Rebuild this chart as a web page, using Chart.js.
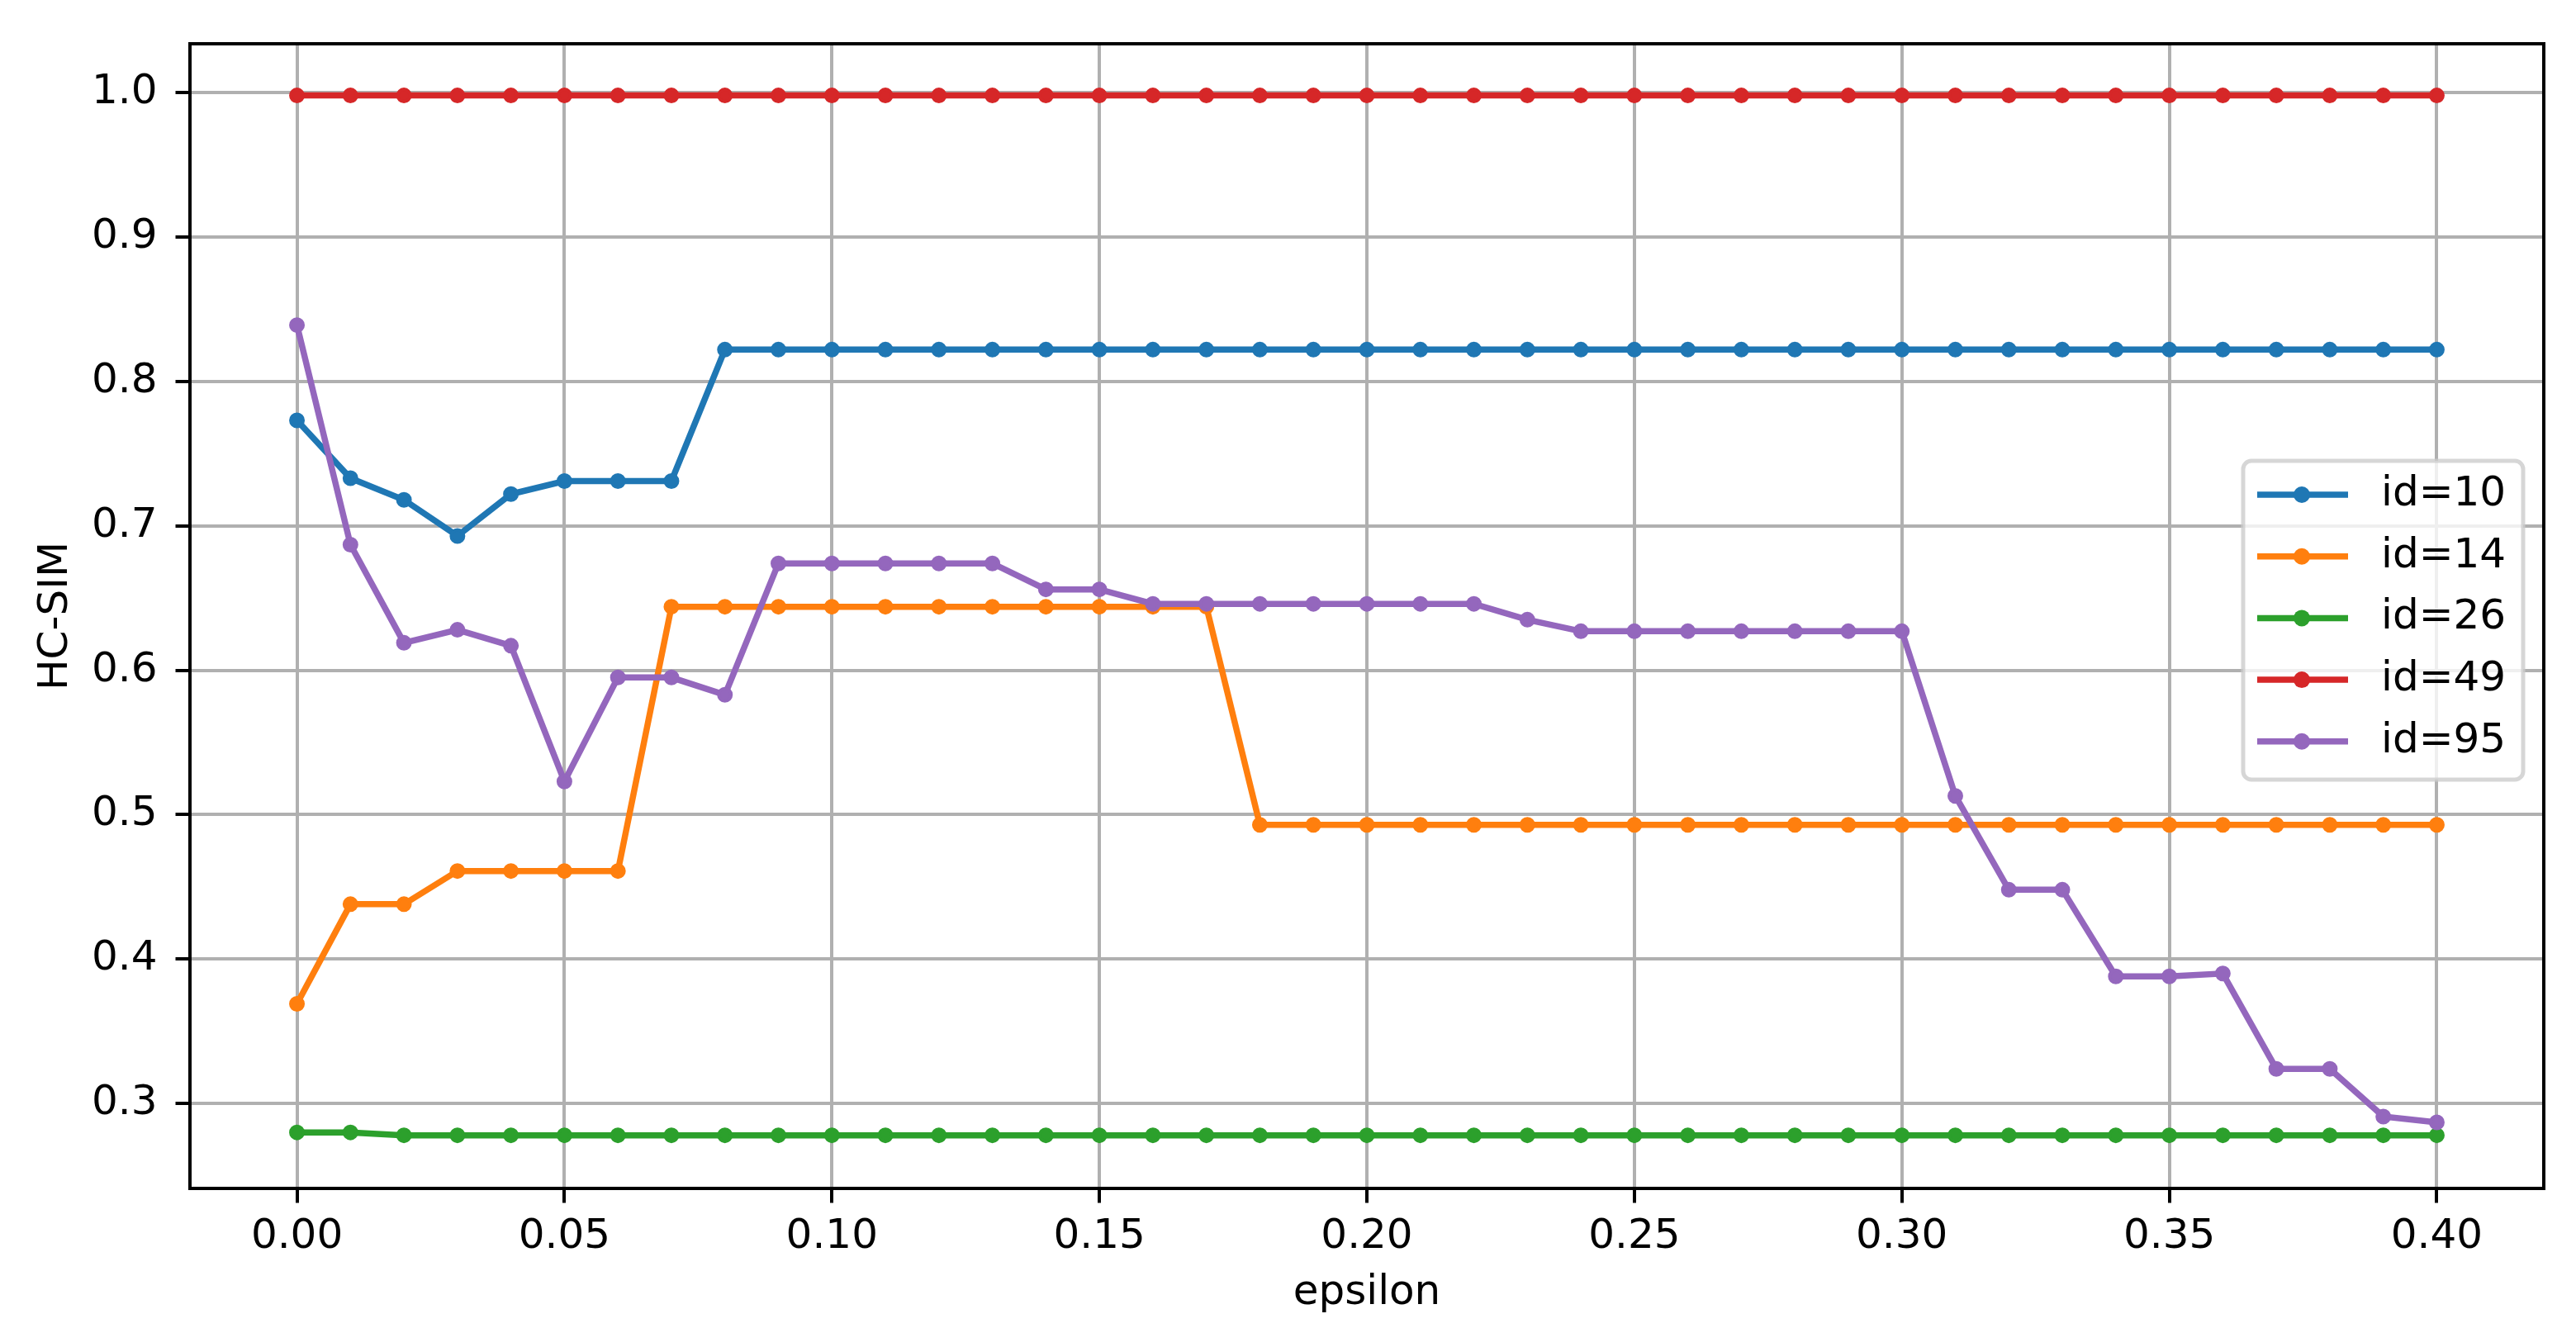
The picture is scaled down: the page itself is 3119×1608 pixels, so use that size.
<!DOCTYPE html>
<html>
<head>
<meta charset="utf-8">
<script src="https://cdn.jsdelivr.net/npm/chart.js@4.4.1/dist/chart.umd.min.js"></script>
<style>
  html, body { margin: 0; padding: 0; background: #ffffff; }
  #wrap { width: 3119px; height: 1608px; }
</style>
</head>
<body>
<div id="wrap"><canvas id="chart" width="3119" height="1608"></canvas></div>
<script>
// valores de epsilon (eje x)
const epsilon = [
    0.00, 0.01, 0.02, 0.03, 0.04, 0.05, 0.06, 0.07, 0.08, 0.09,
    0.10, 0.11, 0.12, 0.13, 0.14, 0.15, 0.16, 0.17, 0.18, 0.19,
    0.20, 0.21, 0.22, 0.23, 0.24, 0.25, 0.26, 0.27, 0.28, 0.29,
    0.30, 0.31, 0.32, 0.33, 0.34, 0.35, 0.36, 0.37, 0.38, 0.39,
    0.40
];

const id10 = [
    0.773, 0.733, 0.718, 0.693, 0.722, 0.731, 0.731, 0.731, 0.822, 0.822,
    0.822, 0.822, 0.822, 0.822, 0.822, 0.822, 0.822, 0.822, 0.822, 0.822,
    0.822, 0.822, 0.822, 0.822, 0.822, 0.822, 0.822, 0.822, 0.822, 0.822,
    0.822, 0.822, 0.822, 0.822, 0.822, 0.822, 0.822, 0.822, 0.822, 0.822,
    0.822
];

const id14 = [
    0.369, 0.438, 0.438, 0.461, 0.461, 0.461, 0.461, 0.644, 0.644, 0.644,
    0.644, 0.644, 0.644, 0.644, 0.644, 0.644, 0.644, 0.644, 0.493, 0.493,
    0.493, 0.493, 0.493, 0.493, 0.493, 0.493, 0.493, 0.493, 0.493, 0.493,
    0.493, 0.493, 0.493, 0.493, 0.493, 0.493, 0.493, 0.493, 0.493, 0.493,
    0.493
];

const id26 = [
    0.280, 0.280, 0.278, 0.278, 0.278, 0.278, 0.278, 0.278, 0.278, 0.278,
    0.278, 0.278, 0.278, 0.278, 0.278, 0.278, 0.278, 0.278, 0.278, 0.278,
    0.278, 0.278, 0.278, 0.278, 0.278, 0.278, 0.278, 0.278, 0.278, 0.278,
    0.278, 0.278, 0.278, 0.278, 0.278, 0.278, 0.278, 0.278, 0.278, 0.278,
    0.278
];

const id49 = [
    0.998, 0.998, 0.998, 0.998, 0.998, 0.998, 0.998, 0.998, 0.998, 0.998,
    0.998, 0.998, 0.998, 0.998, 0.998, 0.998, 0.998, 0.998, 0.998, 0.998,
    0.998, 0.998, 0.998, 0.998, 0.998, 0.998, 0.998, 0.998, 0.998, 0.998,
    0.998, 0.998, 0.998, 0.998, 0.998, 0.998, 0.998, 0.998, 0.998, 0.998,
    0.998
];

const id95 = [
    0.839, 0.687, 0.619, 0.628, 0.617, 0.523, 0.595, 0.595, 0.583, 0.674,
    0.674, 0.674, 0.674, 0.674, 0.656, 0.656, 0.646, 0.646, 0.646, 0.646,
    0.646, 0.646, 0.646, 0.635, 0.627, 0.627, 0.627, 0.627, 0.627, 0.627,
    0.627, 0.513, 0.448, 0.448, 0.388, 0.388, 0.390, 0.324, 0.324, 0.291,
    0.287
];

const seriesLabels = ['id=10', 'id=14', 'id=26', 'id=49', 'id=95'];
const seriesColors = ['#1f77b4', '#ff7f0e', '#2ca02c', '#d62728', '#9467bd'];
const seriesValues = [id10, id14, id26, id49, id95];

const xTicks = [0.00, 0.05, 0.10, 0.15, 0.20, 0.25, 0.30, 0.35, 0.40];
const yTicks = [0.3, 0.4, 0.5, 0.6, 0.7, 0.8, 0.9, 1.0];

const FONT = "'DejaVu Sans', sans-serif";

// marco del gráfico (spines)
const framePlugin = {
    id: 'frame',
    afterDatasetsDraw(chart) {
        const { ctx, chartArea: a } = chart;
        ctx.save();
        ctx.strokeStyle = '#000000';
        ctx.lineWidth = 4;
        ctx.strokeRect(a.left, a.top, a.right - a.left, a.bottom - a.top);
        ctx.restore();
    }
};

// leyenda dentro del área (centro derecha)
const legendPlugin = {
    id: 'innerLegend',
    afterDraw(chart) {
        const { ctx, chartArea: a } = chart;
        const w = 339, h = 386;
        const right = a.right - 25;
        const left = right - w;
        const top = (a.top + a.bottom) / 2 + 5 - h / 2;
        const r = 10;

        ctx.save();
        ctx.beginPath();
        ctx.moveTo(left + r, top);
        ctx.arcTo(left + w, top, left + w, top + h, r);
        ctx.arcTo(left + w, top + h, left, top + h, r);
        ctx.arcTo(left, top + h, left, top, r);
        ctx.arcTo(left, top, left + w, top, r);
        ctx.closePath();
        ctx.fillStyle = 'rgba(255, 255, 255, 0.8)';
        ctx.fill();
        ctx.strokeStyle = 'rgba(204, 204, 204, 0.8)';
        ctx.lineWidth = 5;
        ctx.stroke();

        ctx.font = '50px ' + FONT;
        ctx.textBaseline = 'middle';
        ctx.textAlign = 'left';
        chart.data.datasets.forEach((ds, i) => {
            const y = top + 41 + i * 74.7;
            ctx.strokeStyle = ds.borderColor;
            ctx.lineWidth = 7.5;
            ctx.beginPath();
            ctx.moveTo(left + 17, y);
            ctx.lineTo(left + 127, y);
            ctx.stroke();
            ctx.fillStyle = ds.borderColor;
            ctx.beginPath();
            ctx.arc(left + 71, y, 10, 0, Math.PI * 2);
            ctx.fill();
            ctx.fillStyle = '#000000';
            ctx.fillText(ds.label, left + 167, y);
        });
        ctx.restore();
    }
};

const datasets = seriesValues.map((vals, i) => ({
    label: seriesLabels[i],
    data: vals.map((v, j) => ({ x: epsilon[j], y: v })),
    borderColor: seriesColors[i],
    backgroundColor: seriesColors[i],
    borderWidth: 7.5,
    pointRadius: 7.5,
    pointBorderWidth: 4,
    pointBackgroundColor: seriesColors[i],
    pointBorderColor: seriesColors[i],
    tension: 0,
    fill: false,
    order: seriesValues.length - i
}));

const ctx = document.getElementById('chart').getContext('2d');
new Chart(ctx, {
    type: 'line',
    data: { datasets: datasets },
    plugins: [framePlugin, legendPlugin],
    options: {
        responsive: false,
        animation: false,
        devicePixelRatio: 1,
        events: [],
        layout: {
            padding: { left: 0, right: 39, top: 53, bottom: 0 }
        },
        plugins: {
            legend: { display: false },
            tooltip: { enabled: false }
        },
        scales: {
            x: {
                type: 'linear',
                min: -0.02,
                max: 0.42,
                afterFit: (scale) => { scale.height = 169; },
                afterBuildTicks: (scale) => { scale.ticks = xTicks.map(v => ({ value: v })); },
                grid: {
                    color: '#b0b0b0',
                    lineWidth: 4,
                    drawTicks: true,
                    tickLength: 17.5,
                    tickColor: '#000000',
                    tickWidth: 4
                },
                border: { display: false },
                ticks: {
                    color: '#000000',
                    padding: 12,
                    maxRotation: 0,
                    autoSkip: false,
                    font: { family: FONT, size: 50 },
                    callback: (v) => Number(v).toFixed(2)
                },
                title: {
                    display: true,
                    text: 'epsilon',
                    color: '#000000',
                    padding: { top: 0, bottom: 12 },
                    font: { family: FONT, size: 50 }
                }
            },
            y: {
                type: 'linear',
                min: 0.2412,
                max: 1.0338,
                afterFit: (scale) => { scale.width = 230; },
                afterBuildTicks: (scale) => { scale.ticks = yTicks.map(v => ({ value: v })); },
                grid: {
                    color: '#b0b0b0',
                    lineWidth: 4,
                    drawTicks: true,
                    tickLength: 17.5,
                    tickColor: '#000000',
                    tickWidth: 4
                },
                border: { display: false },
                ticks: {
                    color: '#000000',
                    padding: 22,
                    autoSkip: false,
                    font: { family: FONT, size: 50 },
                    callback: (v) => Number(v).toFixed(1)
                },
                title: {
                    display: true,
                    text: 'HC-SIM',
                    color: '#000000',
                    padding: { top: 38, bottom: 0 },
                    font: { family: FONT, size: 50 }
                }
            }
        }
    }
});
</script>
</body>
</html>
